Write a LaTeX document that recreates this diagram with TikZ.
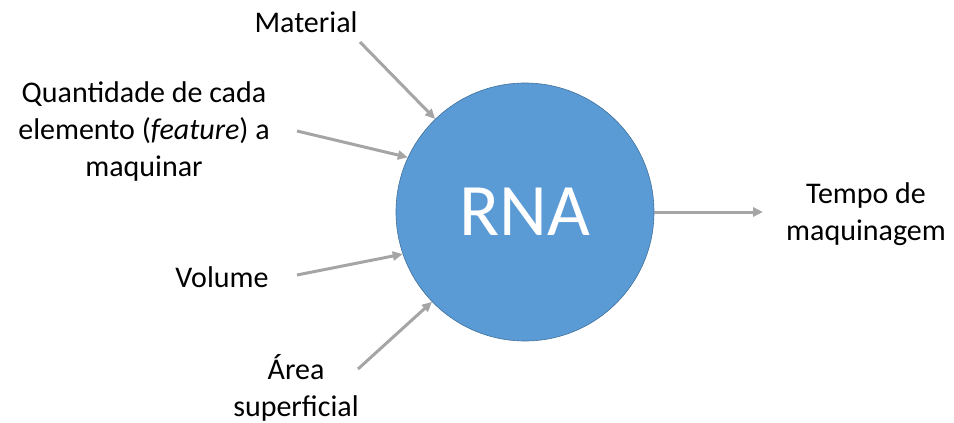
\documentclass[tikz,border=0pt]{standalone}
\usepackage{fontspec}
\setmainfont{Carlito}
\usepackage{tikz}
\usetikzlibrary{positioning,arrows.meta}
\definecolor{rnablue}{HTML}{5B9BD5}
\definecolor{rnaedge}{HTML}{41719C}
\definecolor{setagray}{HTML}{A5A5A5}

\begin{document}
\begin{tikzpicture}[
    x=1pt, y=-1pt,
    rede/.style={
        circle,
        minimum size=258pt,
        inner sep=0pt,
        fill=rnablue,
        draw=rnaedge,
        line width=0.6pt,
        text=white,
        font=\fontsize{74}{80}\selectfont
    },
    rotulo/.style={
        align=center,
        inner sep=2pt,
        font=\fontsize{30}{37}\selectfont
    },
    seta/.style={
        -{Triangle[length=10pt,width=9pt]},
        draw=setagray,
        line width=3pt
    }
]

\useasboundingbox (0,0) rectangle (954,423);

\node[rede] (rna) at (525,212) {RNA};

\node[rotulo] (mat) at (306,22) {Material};
\node[rotulo] (qtd) at (144,132) {Quantidade de cada\\elemento (\textit{feature}) a\\maquinar};
\node[rotulo] (vol) at (222,277) {Volume};
\node[rotulo] (area) at (296,388) {Área\\superficial};
\node[rotulo] (tempo) at (866,214) {Tempo de\\maquinagem};

\coordinate (cmat) at (360,42);
\coordinate (cqtd) at (297,131);
\coordinate (cvol) at (297,275);
\coordinate (carea) at (358,369);
\coordinate (ctempo) at (763,212);

\draw[seta] (cmat) -- (rna.134);
\draw[seta] (cqtd) -- (rna.155);
\draw[seta] (cvol) -- (rna.199);
\draw[seta] (carea) -- (rna.224);
\draw[seta] (rna) -- (ctempo);

\end{tikzpicture}
\end{document}
